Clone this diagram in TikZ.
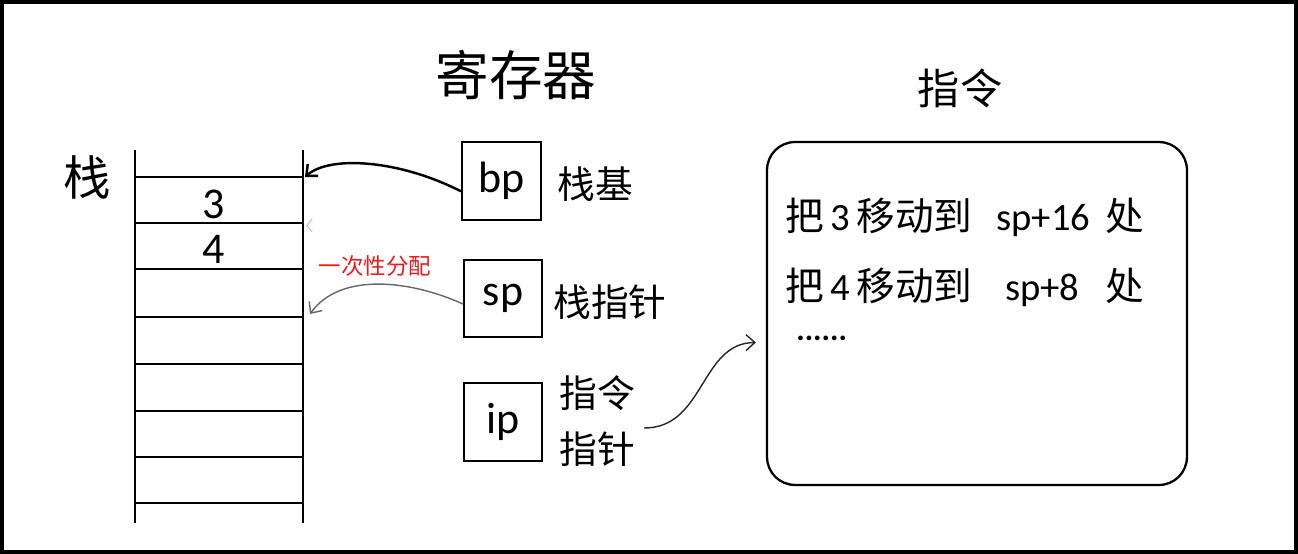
\documentclass[tikz,border=0pt]{standalone}
\usepackage{fontspec}
\setmainfont{Carlito}
\newfontfamily\cjk{Noto Sans CJK SC}
\usetikzlibrary{arrows.meta,calc}

\tikzset{
  stackline/.style={line width=1.4pt},
  regbox/.style={draw, line width=1.1pt, inner sep=0pt, font=\fontsize{25}{27}\selectfont},
  cjklabel/.style={inner sep=0pt, font=\cjk\fontsize{21.5}{31.8}\selectfont, align=center},
  insline/.style={inner sep=0pt, anchor=west, font=\fontsize{22}{24}\selectfont},
  barb/.style={-{Straight Barb[length=5pt,width=9pt]}},
}

\begin{document}
\begin{tikzpicture}[x=0.02cm,y=-0.02cm]
\useasboundingbox (0,0) rectangle (1298,554);
% outer frame
\draw[line width=2.2pt] (2,2) rectangle (1296,552);

% titles
\node[inner sep=0pt, font=\cjk\fontsize{30.5}{32}\selectfont] (regtitle) at (516,75) {寄存器};
\node[inner sep=0pt, font=\cjk\fontsize{24}{26}\selectfont] (institle) at (960,88) {指令};

% the stack
\node[inner sep=0pt, font=\cjk\fontsize{27}{29}\selectfont] (stacklabel) at (87,177) {栈};
\draw[stackline] (135,150) -- (135,523);
\draw[stackline] (303,150) -- (303,523);
\foreach \y in {177,223,269,317,364,411,457,503}
  \draw[stackline] (135,\y) -- (303,\y);
\node[inner sep=0pt, font=\fontsize{25}{27}\selectfont] (v3) at (214,204) {3};
\node[inner sep=0pt, font=\fontsize{25}{27}\selectfont] (v4) at (214,249) {4};
\coordinate (slotbp) at (305,177);
\coordinate (slotsp) at (310,314);
% faint old pointer mark
\draw[black!25, line width=0.6pt] (312,219) -- (307,225.5) -- (312,232);

% registers
\node[regbox, minimum width=1.58cm, minimum height=1.56cm] (bp) at (501.5,181) {bp};
\node[regbox, minimum width=1.56cm, minimum height=1.54cm] (sp) at (503,298.5) {sp};
\node[regbox, minimum width=1.56cm, minimum height=1.56cm] (ip) at (503,422) {ip};
\node[cjklabel] (bpl) at (595,184) {栈基};
\node[cjklabel] (spl) at (610,302) {栈指针};
\node[cjklabel] (ipl) at (597,421) {指令\\指针};

% red note
\node[inner sep=0pt, text={rgb,255:red,232;green,28;blue,28}, font=\cjk\fontsize{12.8}{14}\selectfont] (note) at (375,266) {一次性分配};

% instruction area
\node[draw, line width=1.3pt, rounded corners=0.56cm, minimum width=8.4cm, minimum height=6.86cm, inner sep=0pt] (ins) at (977,313.5) {};
\node[insline] (i1) at (785,217) {{\cjk 把}\,3\,{\cjk 移动到}\ \ \,sp+16\ \,{\cjk 处}};
\node[insline] (i2) at (785,287) {{\cjk 把}\,4\,{\cjk 移动到}\ \ \ \,sp+8\ \ \ {\cjk 处}};
\node[insline, font=\bfseries\fontsize{18}{20}\selectfont] (i3) at (796,338) {......};

% connectors
\draw[barb, line width=1.4pt] ($(bp.north west)!0.63!(bp.south west)$)
  .. controls (400,160) and (330,155) .. (slotbp);
\draw[barb, black!60, line width=0.8pt] ($(sp.north west)!0.57!(sp.south west)$)
  .. controls (410,280) and (340,272) .. (slotsp);
\draw[barb, black!85, line width=0.8pt] ($(ipl.east)+(9,7)$)
  .. controls (705,428) and (700,343) .. ($(ins.west)+(-10,29)$);
\end{tikzpicture}
\end{document}
